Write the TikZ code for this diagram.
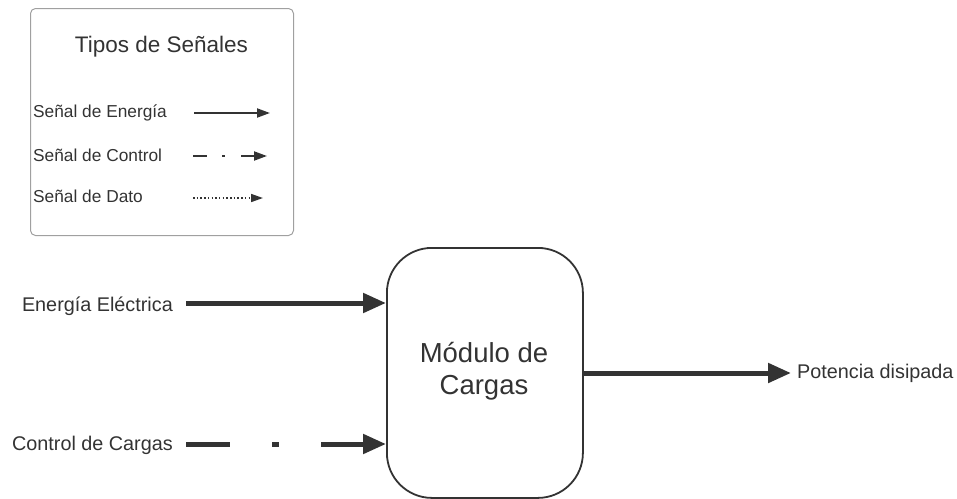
\documentclass[tikz,border=0pt]{standalone}
\usepackage{fontspec}
\setmainfont{Liberation Sans}
\usetikzlibrary{arrows.meta}
\definecolor{ink}{HTML}{333333}
\definecolor{frame}{HTML}{A0A0A0}
\begin{document}
\begin{tikzpicture}[x=1pt,y=-1pt,
  lbl/.style={text=ink,inner sep=0pt,font=\fontsize{19.8}{23}\selectfont},
  leglbl/.style={text=ink,inner sep=0pt,anchor=west,font=\fontsize{17.3}{20}\selectfont},
  bigflow/.style={draw=ink,line width=5pt,-{Triangle[length=23pt,width=19pt]}},
  smallflow/.style={draw=ink,line width=2pt,-{Triangle[length=13pt,width=9pt]}},
  ctrldash/.style={dash pattern=on 44pt off 42pt on 7pt off 42pt},
  legctrl/.style={dash pattern=on 14pt off 15pt on 3pt off 16pt},
  legdato/.style={line width=1.6pt,dash pattern=on 1.5pt off 2.2pt}]
\useasboundingbox (0,0) rectangle (957,498);

% legend frame
\node[draw=frame,line width=1pt,rounded corners=5pt,minimum width=263pt,minimum height=227pt,anchor=north west,inner sep=0pt] (legend) at (30,8) {};
\node[text=ink,inner sep=0pt,font=\fontsize{22.5}{26}\selectfont] (legtitle) at (161.5,47) {Tipos de Señales};

\node[leglbl] (lenergia) at (33,112.5) {Señal de Energía};
\node[leglbl] (lcontrol) at (33,155.5) {Señal de Control};
\node[leglbl] (ldato) at (33,196.5) {Señal de Dato};

\coordinate (le1) at (194,113);  \coordinate (le2) at (270,113);
\coordinate (lc1) at (193,156);  \coordinate (lc2) at (267,156);
\coordinate (ld1) at (193,198);  \coordinate (ld2) at (263,198);
\draw[smallflow] (le1) -- (le2);
\draw[smallflow,legctrl] (lc1) -- (lc2);
\draw[smallflow,line width=1.6pt,-{Triangle[length=12pt,width=8pt]},legdato] (ld1) -- (ld2);

% main block
\node[draw=ink,line width=1.8pt,rounded corners=45pt,minimum width=196pt,minimum height=250pt,anchor=north west,inner sep=0pt] (mod) at (386,247) {};
\node[text=ink,align=center,inner sep=0pt,font=\fontsize{27.5}{32}\selectfont] (modtxt) at (484,371) {Módulo de\\Cargas};

% inputs and output
\node[lbl,anchor=east] (energia) at (173,306) {Energía Eléctrica};
\node[lbl,anchor=east] (control) at (173,445) {Control de Cargas};
\node[lbl,anchor=west] (potencia) at (797,373) {Potencia disipada};

\coordinate (e0) at (186,303);
\coordinate (c0) at (186,444);
\coordinate (p1) at (791,373);
\draw[bigflow] (e0) -- (e0 -| mod.west);
\draw[bigflow,ctrldash] (c0) -- (c0 -| mod.west);
\draw[bigflow] (mod.east |- p1) -- (p1);
\end{tikzpicture}
\end{document}
